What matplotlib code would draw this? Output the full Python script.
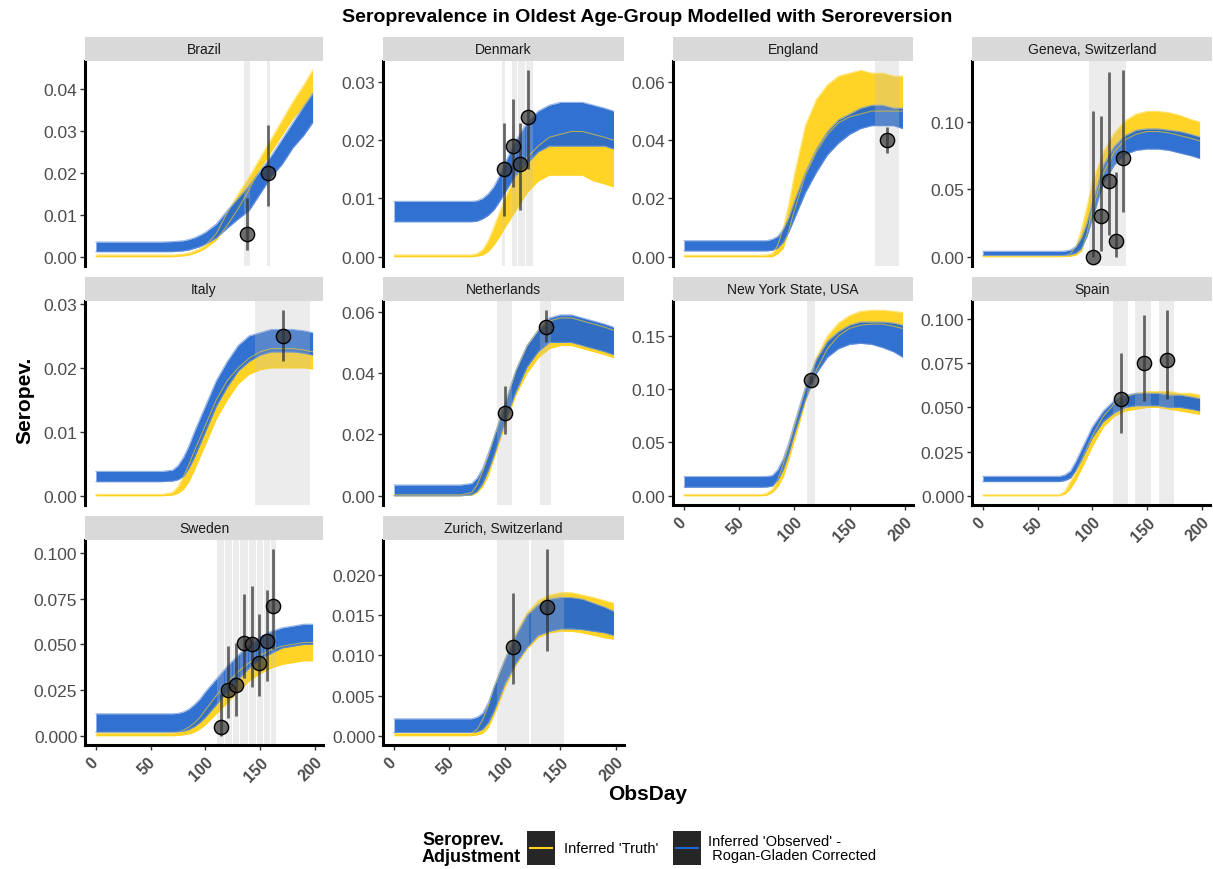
import matplotlib
matplotlib.use("Agg")
import matplotlib.pyplot as plt
from matplotlib.patches import Rectangle
from matplotlib.lines import Line2D
from matplotlib.transforms import ScaledTranslation

plt.rcParams['font.family'] = ['Liberation Sans', 'DejaVu Sans']

# ---- data ----
regions = ["Brazil", "Denmark", "England", "Geneva, Switzerland",
           "Italy", "Netherlands", "New York State, USA", "Spain",
           "Sweden", "Zurich, Switzerland"]

days = [0, 60, 70, 75, 80, 85, 90, 95, 100, 110, 120, 130, 140, 150, 160, 170, 180, 190, 198]

# Inferred 'Truth' envelope (yellow)
truth_lo = {
    "Brazil": [0, 0, 0, 0.0001, 0.0002, 0.0004, 0.0008, 0.0013, 0.002, 0.004, 0.0075, 0.0115, 0.016, 0.021, 0.025, 0.029, 0.033, 0.036, 0.039],
    "Denmark": [0, 0, 0, 0.0001, 0.0003, 0.0009, 0.002, 0.0034, 0.005, 0.008, 0.011, 0.013, 0.014, 0.014, 0.014, 0.014, 0.013, 0.0125, 0.012],
    "England": [0, 0, 0, 0, 0, 0.001, 0.003, 0.009, 0.016, 0.028, 0.036, 0.042, 0.046, 0.048, 0.049, 0.050, 0.050, 0.050, 0.050],
    "Geneva, Switzerland": [0, 0, 0, 0.0001, 0.0003, 0.0012, 0.004, 0.017, 0.035, 0.062, 0.078, 0.087, 0.091, 0.093, 0.093, 0.092, 0.090, 0.088, 0.086],
    "Italy": [0, 0, 0.0001, 0.0004, 0.001, 0.0022, 0.004, 0.006, 0.008, 0.012, 0.015, 0.0175, 0.019, 0.0197, 0.020, 0.020, 0.020, 0.020, 0.0198],
    "Netherlands": [0, 0, 0.0002, 0.001, 0.003, 0.0065, 0.012, 0.0175, 0.023, 0.033, 0.040, 0.045, 0.048, 0.049, 0.049, 0.048, 0.047, 0.046, 0.045],
    "New York State, USA": [0, 0, 0, 0.0005, 0.003, 0.0085, 0.018, 0.034, 0.052, 0.088, 0.118, 0.138, 0.150, 0.157, 0.160, 0.161, 0.161, 0.159, 0.157],
    "Spain": [0, 0, 0, 0.001, 0.004, 0.009, 0.015, 0.0215, 0.028, 0.039, 0.045, 0.048, 0.049, 0.050, 0.050, 0.049, 0.048, 0.047, 0.046],
    "Sweden": [0, 0, 0, 0.0001, 0.0005, 0.001, 0.002, 0.0037, 0.006, 0.012, 0.018, 0.024, 0.030, 0.034, 0.037, 0.039, 0.040, 0.041, 0.041],
    "Zurich, Switzerland": [0, 0, 0, 0.0001, 0.0003, 0.001, 0.0025, 0.0042, 0.006, 0.0088, 0.0108, 0.0122, 0.0128, 0.013, 0.013, 0.0128, 0.0125, 0.0122, 0.012],
}
truth_hi = {
    "Brazil": [0.0004, 0.0004, 0.0004, 0.0005, 0.0006, 0.0009, 0.0013, 0.0019, 0.0027, 0.0055, 0.0105, 0.015, 0.019, 0.0235, 0.028, 0.0325, 0.037, 0.041, 0.0445],
    "Denmark": [0.0003, 0.0003, 0.0003, 0.0005, 0.0012, 0.0027, 0.005, 0.0075, 0.010, 0.014, 0.017, 0.019, 0.0205, 0.021, 0.0215, 0.0215, 0.021, 0.0205, 0.020],
    "England": [0.0005, 0.0005, 0.0005, 0.0006, 0.001, 0.004, 0.010, 0.018, 0.028, 0.045, 0.054, 0.059, 0.062, 0.063, 0.064, 0.063, 0.063, 0.062, 0.062],
    "Geneva, Switzerland": [0.0005, 0.0005, 0.0005, 0.0007, 0.002, 0.008, 0.020, 0.037, 0.055, 0.078, 0.092, 0.101, 0.106, 0.108, 0.108, 0.107, 0.105, 0.102, 0.100],
    "Italy": [0.0002, 0.0002, 0.0005, 0.0014, 0.003, 0.0049, 0.007, 0.009, 0.011, 0.015, 0.018, 0.020, 0.0215, 0.0225, 0.023, 0.023, 0.023, 0.0228, 0.0225],
    "Netherlands": [0.0003, 0.0003, 0.001, 0.0035, 0.008, 0.013, 0.019, 0.0245, 0.030, 0.041, 0.049, 0.054, 0.057, 0.058, 0.058, 0.057, 0.056, 0.055, 0.054],
    "New York State, USA": [0.001, 0.001, 0.001, 0.0022, 0.006, 0.015, 0.030, 0.047, 0.065, 0.100, 0.130, 0.150, 0.162, 0.169, 0.173, 0.174, 0.174, 0.173, 0.172],
    "Spain": [0.0005, 0.0005, 0.0005, 0.0025, 0.008, 0.0135, 0.020, 0.027, 0.034, 0.045, 0.052, 0.056, 0.058, 0.059, 0.059, 0.059, 0.058, 0.058, 0.057],
    "Sweden": [0.0015, 0.0015, 0.0015, 0.0019, 0.003, 0.0047, 0.007, 0.010, 0.014, 0.022, 0.029, 0.035, 0.040, 0.044, 0.047, 0.049, 0.050, 0.051, 0.051],
    "Zurich, Switzerland": [0.0003, 0.0003, 0.0003, 0.0008, 0.002, 0.0037, 0.006, 0.0078, 0.0095, 0.0128, 0.0153, 0.0168, 0.0175, 0.0178, 0.0178, 0.0175, 0.0172, 0.0168, 0.0165],
}
# Inferred 'Observed' (Rogan-Gladen corrected) envelope (blue)
rg_lo = {
    "Brazil": [0.0012, 0.0012, 0.0012, 0.0013, 0.0014, 0.0016, 0.002, 0.0024, 0.003, 0.0045, 0.0068, 0.009, 0.011, 0.015, 0.019, 0.022, 0.026, 0.029, 0.032],
    "Denmark": [0.006, 0.006, 0.006, 0.0061, 0.0065, 0.0071, 0.008, 0.0094, 0.011, 0.014, 0.016, 0.018, 0.019, 0.019, 0.019, 0.019, 0.019, 0.019, 0.0185],
    "England": [0.002, 0.002, 0.002, 0.002, 0.0022, 0.003, 0.005, 0.0085, 0.013, 0.022, 0.029, 0.035, 0.039, 0.042, 0.044, 0.045, 0.045, 0.045, 0.044],
    "Geneva, Switzerland": [0.001, 0.001, 0.001, 0.0011, 0.0015, 0.0028, 0.006, 0.015, 0.028, 0.055, 0.068, 0.076, 0.079, 0.080, 0.080, 0.079, 0.077, 0.075, 0.073],
    "Italy": [0.0022, 0.0022, 0.0023, 0.0025, 0.003, 0.0043, 0.006, 0.008, 0.010, 0.014, 0.017, 0.0195, 0.021, 0.022, 0.0225, 0.0225, 0.0225, 0.0223, 0.022],
    "Netherlands": [0, 0, 0.0003, 0.0014, 0.004, 0.0082, 0.013, 0.0185, 0.024, 0.034, 0.042, 0.047, 0.050, 0.050, 0.050, 0.049, 0.048, 0.047, 0.046],
    "New York State, USA": [0.008, 0.008, 0.008, 0.0082, 0.009, 0.0145, 0.025, 0.040, 0.058, 0.090, 0.115, 0.130, 0.138, 0.142, 0.143, 0.142, 0.139, 0.135, 0.130],
    "Spain": [0.008, 0.008, 0.008, 0.0086, 0.010, 0.0143, 0.020, 0.0265, 0.033, 0.042, 0.047, 0.050, 0.051, 0.051, 0.051, 0.050, 0.050, 0.049, 0.048],
    "Sweden": [0.002, 0.002, 0.002, 0.0021, 0.0025, 0.0034, 0.005, 0.0072, 0.010, 0.017, 0.024, 0.031, 0.037, 0.042, 0.045, 0.048, 0.049, 0.050, 0.050],
    "Zurich, Switzerland": [0.0004, 0.0004, 0.0004, 0.0005, 0.0008, 0.0016, 0.003, 0.0047, 0.0065, 0.009, 0.011, 0.0125, 0.013, 0.0133, 0.0133, 0.0132, 0.013, 0.0128, 0.0125],
}
rg_hi = {
    "Brazil": [0.0035, 0.0035, 0.0036, 0.0037, 0.0038, 0.0041, 0.0045, 0.0051, 0.0058, 0.0078, 0.011, 0.014, 0.017, 0.0205, 0.024, 0.028, 0.032, 0.036, 0.039],
    "Denmark": [0.0095, 0.0095, 0.0095, 0.0096, 0.010, 0.0108, 0.012, 0.0138, 0.016, 0.020, 0.023, 0.025, 0.026, 0.0265, 0.0265, 0.0265, 0.026, 0.0255, 0.025],
    "England": [0.0055, 0.0055, 0.0055, 0.0055, 0.006, 0.007, 0.0095, 0.0135, 0.019, 0.029, 0.037, 0.043, 0.047, 0.049, 0.051, 0.052, 0.052, 0.051, 0.051],
    "Geneva, Switzerland": [0.004, 0.004, 0.004, 0.0042, 0.005, 0.0075, 0.014, 0.025, 0.040, 0.068, 0.082, 0.090, 0.094, 0.095, 0.095, 0.094, 0.093, 0.091, 0.089],
    "Italy": [0.0038, 0.0038, 0.004, 0.0047, 0.006, 0.0078, 0.010, 0.012, 0.014, 0.018, 0.021, 0.0235, 0.025, 0.0255, 0.026, 0.026, 0.026, 0.0258, 0.0255],
    "Netherlands": [0.0035, 0.0035, 0.004, 0.0058, 0.009, 0.0138, 0.019, 0.0245, 0.030, 0.041, 0.049, 0.054, 0.058, 0.059, 0.059, 0.058, 0.057, 0.056, 0.055],
    "New York State, USA": [0.018, 0.018, 0.018, 0.0182, 0.019, 0.0245, 0.035, 0.050, 0.068, 0.102, 0.128, 0.145, 0.154, 0.160, 0.163, 0.163, 0.163, 0.162, 0.160],
    "Spain": [0.011, 0.011, 0.011, 0.0118, 0.014, 0.0195, 0.026, 0.0325, 0.039, 0.048, 0.054, 0.057, 0.058, 0.058, 0.058, 0.057, 0.057, 0.056, 0.055],
    "Sweden": [0.012, 0.012, 0.012, 0.0122, 0.013, 0.0145, 0.017, 0.020, 0.024, 0.031, 0.038, 0.044, 0.050, 0.054, 0.057, 0.059, 0.060, 0.061, 0.061],
    "Zurich, Switzerland": [0.0021, 0.0021, 0.0021, 0.0023, 0.0028, 0.0041, 0.006, 0.0078, 0.0095, 0.0125, 0.015, 0.0163, 0.017, 0.0172, 0.0172, 0.017, 0.0165, 0.016, 0.0155],
}

# serosurvey observation windows (start day, end day)
obs_windows = {
    "Brazil": [(135, 141), (156, 159)],
    "Denmark": [(97, 100), (106, 111), (112, 118), (119, 125)],
    "England": [(173, 195)],
    "Geneva, Switzerland": [(97, 131)],
    "Italy": [(145, 196)],
    "Netherlands": [(93, 106), (132, 142)],
    "New York State, USA": [(111, 119)],
    "Spain": [(119, 133), (139, 154), (161, 175)],
    "Sweden": [(111, 117), (118, 124), (125, 131), (132, 139), (140, 146), (147, 153), (154, 159), (160, 165)],
    "Zurich, Switzerland": [(93, 122), (124, 153)],
}

# observed serosurvey points with intervals
obs_day = {
    "Brazil": [138, 157],
    "Denmark": [99, 107.5, 114, 121],
    "England": [184],
    "Geneva, Switzerland": [101, 108, 115, 122, 128],
    "Italy": [171],
    "Netherlands": [100, 137],
    "New York State, USA": [115],
    "Spain": [126, 147, 168],
    "Sweden": [114, 121, 128, 135, 143, 149, 156, 162],
    "Zurich, Switzerland": [107, 138],
}
obs_val = {
    "Brazil": [0.0055, 0.020],
    "Denmark": [0.015, 0.019, 0.016, 0.024],
    "England": [0.040],
    "Geneva, Switzerland": [0.000, 0.030, 0.056, 0.012, 0.073],
    "Italy": [0.025],
    "Netherlands": [0.027, 0.055],
    "New York State, USA": [0.109],
    "Spain": [0.0547, 0.0751, 0.077],
    "Sweden": [0.005, 0.025, 0.028, 0.051, 0.050, 0.040, 0.052, 0.071],
    "Zurich, Switzerland": [0.011, 0.016],
}
obs_lo = {
    "Brazil": [0.0015, 0.012],
    "Denmark": [0.007, 0.012, 0.008, 0.015],
    "England": [0.0355],
    "Geneva, Switzerland": [0.0, 0.004, 0.016, 0.0, 0.033],
    "Italy": [0.021],
    "Netherlands": [0.020, 0.050],
    "New York State, USA": [0.106],
    "Spain": [0.0355, 0.0534, 0.0547],
    "Sweden": [0.0, 0.0095, 0.011, 0.0317, 0.0266, 0.0215, 0.030, 0.0477],
    "Zurich, Switzerland": [0.0064, 0.0105],
}
obs_hi = {
    "Brazil": [0.014, 0.0315],
    "Denmark": [0.023, 0.027, 0.023, 0.032],
    "England": [0.0445],
    "Geneva, Switzerland": [0.108, 0.1045, 0.137, 0.063, 0.1385],
    "Italy": [0.029],
    "Netherlands": [0.0357, 0.0605],
    "New York State, USA": [0.112],
    "Spain": [0.0808, 0.1025, 0.105],
    "Sweden": [0.023, 0.049, 0.051, 0.0776, 0.082, 0.0666, 0.080, 0.102],
    "Zurich, Switzerland": [0.0178, 0.0232],
}

yticks = {
    "Brazil": [0, 0.01, 0.02, 0.03, 0.04],
    "Denmark": [0, 0.01, 0.02, 0.03],
    "England": [0, 0.02, 0.04, 0.06],
    "Geneva, Switzerland": [0, 0.05, 0.10],
    "Italy": [0, 0.01, 0.02, 0.03],
    "Netherlands": [0, 0.02, 0.04, 0.06],
    "New York State, USA": [0, 0.05, 0.10, 0.15],
    "Spain": [0, 0.025, 0.05, 0.075, 0.10],
    "Sweden": [0, 0.025, 0.05, 0.075, 0.10],
    "Zurich, Switzerland": [0, 0.005, 0.01, 0.015, 0.02],
}
ytick_decimals = {"Spain": 3, "Sweden": 3, "Zurich, Switzerland": 3}
xticks = [0, 50, 100, 150, 200]
bottom_panels = ["New York State, USA", "Spain", "Sweden", "Zurich, Switzerland"]

# ---- layout ----
W, H = 1213, 870
YELLOW = '#FFD21A'
BLUE = '#2166CF'

col_x = [(85, 323), (383, 624), (673, 913), (972, 1210)]
row_y = [(62, 267), (302, 506), (541, 746)]
strip_y = [(38, 62), (278, 302), (517, 541)]


def frac(x0, x1, y0, y1):
    return [x0 / W, 1 - y1 / H, (x1 - x0) / W, (y1 - y0) / H]


fig = plt.figure(figsize=(W / 100, H / 100), dpi=100)
shift_left = ScaledTranslation(-4 / 100, 0, fig.dpi_scale_trans)

for i, reg in enumerate(regions):
    r, c = divmod(i, 4)
    x0, x1 = col_x[c]
    ax = fig.add_axes(frac(x0, x1, *row_y[r]))
    sax = fig.add_axes(frac(x0, 1212 if c == 3 else x1, *strip_y[r]))
    sax.set_facecolor('#D9D9D9')
    sax.set_xticks([])
    sax.set_yticks([])
    for s in sax.spines.values():
        s.set_visible(False)
    sax.text(0.5, 0.5, reg, ha='center', va='center', fontsize=10, color='#1A1A1A',
             transform=sax.transAxes)

    # posterior envelopes
    ax.fill_between(days, truth_lo[reg], truth_hi[reg], color=YELLOW, lw=0, alpha=0.95)
    ax.plot(days, truth_lo[reg], color=YELLOW, lw=0.8, alpha=0.6)
    ax.plot(days, truth_hi[reg], color=YELLOW, lw=0.8, alpha=0.6)
    ax.fill_between(days, rg_lo[reg], rg_hi[reg], color=BLUE, lw=0, alpha=0.93)
    ax.plot(days, rg_lo[reg], color='#6F97DC', lw=0.8, alpha=0.7)
    ax.plot(days, rg_hi[reg], color='#6F97DC', lw=0.8, alpha=0.7)

    for a, b in obs_windows[reg]:
        ax.axvspan(a, b, color='#BDBDBD', alpha=0.28, lw=0)

    v = obs_val[reg]
    yerr = [[v[k] - obs_lo[reg][k] for k in range(len(v))],
            [obs_hi[reg][k] - v[k] for k in range(len(v))]]
    ax.errorbar(obs_day[reg], v, yerr=yerr, fmt='none', ecolor='#2B2B2B',
                elinewidth=2, alpha=0.7, capsize=0, zorder=4)
    ax.scatter(obs_day[reg], v, s=105, facecolor=(0.2, 0.2, 0.2, 0.7),
               edgecolor='black', linewidth=1.0, zorder=5)

    ax.set_xlim(-10, 207.5)
    ax.margins(y=0.05)
    ax.set_facecolor('white')
    for s in ['top', 'right']:
        ax.spines[s].set_visible(False)
    ax.spines['left'].set_linewidth(2.2)
    ax.spines['left'].set_color('black')

    dec = ytick_decimals.get(reg, 2)
    ax.set_yticks(yticks[reg])
    ax.set_yticklabels([f"{t:.{dec}f}" for t in yticks[reg]])
    ax.tick_params(axis='y', direction='out', length=3.5, width=1, color='#333333',
                   labelsize=12.5, labelcolor='#4D4D4D', pad=2)

    if reg in bottom_panels:
        ax.spines['bottom'].set_linewidth(2.2)
        ax.spines['bottom'].set_color('black')
        ax.set_xticks(xticks)
        ax.set_xticklabels([str(t) for t in xticks], rotation=45, ha='center', va='top',
                           fontweight='bold')
        ax.tick_params(axis='x', direction='out', length=3.5, width=1, color='#333333',
                       labelsize=11.5, labelcolor='#4D4D4D', pad=3)
        for lab in ax.get_xticklabels():
            lab.set_transform(lab.get_transform() + shift_left)
    else:
        ax.spines['bottom'].set_visible(False)
        ax.set_xticks([])

fig.text(647 / W, 1 - 18 / H, "Seroprevalence in Oldest Age-Group Modelled with Seroreversion",
         ha='center', va='center', fontsize=14, fontweight='bold')
fig.text(25 / W, 1 - 400 / H, "Seropev.", rotation=90, ha='center', va='center',
         fontsize=15, fontweight='bold')
fig.text(648 / W, 1 - 795 / H, "ObsDay", ha='center', va='center',
         fontsize=15, fontweight='bold')

# legend (drawn by hand, ggplot style)
fig.text(422 / W, 1 - 849 / H, "Seroprev.\nAdjustment", ha='left', va='center',
         fontsize=13, fontweight='bold', linespacing=0.95)
for bx, col in [(527, YELLOW), (673, BLUE)]:
    fig.patches.append(Rectangle((bx / W, 1 - 866 / H), 28 / W, 34 / H,
                                 transform=fig.transFigure, facecolor='#262626',
                                 edgecolor='none'))
    fig.lines.append(Line2D([(bx + 3) / W, (bx + 25) / W], [1 - 849 / H, 1 - 849 / H],
                            transform=fig.transFigure, color=col, lw=1.5))
fig.text(564 / W, 1 - 849 / H, "Inferred 'Truth'", ha='left', va='center', fontsize=10.5)
fig.text(708 / W, 1 - 849 / H, "Inferred 'Observed' -\n Rogan-Gladen Corrected",
         ha='left', va='center', fontsize=10.5, linespacing=1.0)

fig.savefig('out.png', dpi=100)
